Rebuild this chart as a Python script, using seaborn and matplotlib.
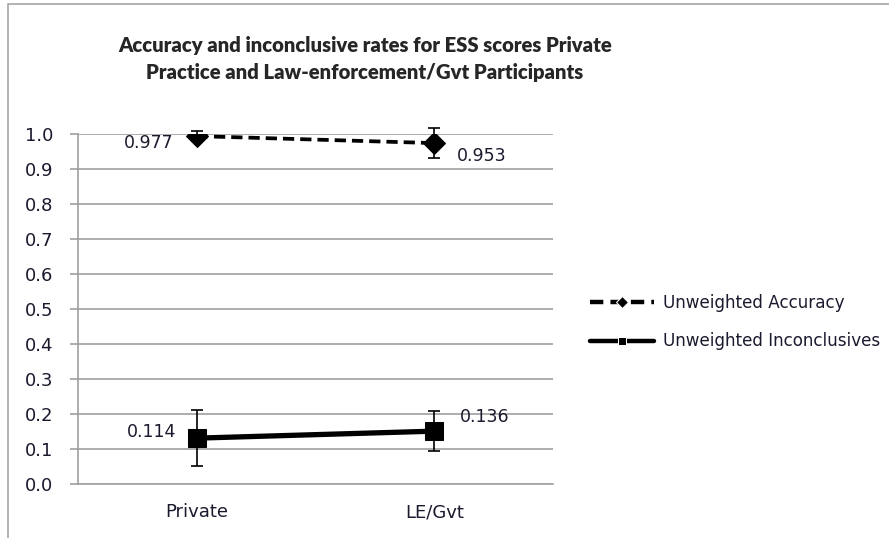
import pandas as pd
import matplotlib.pyplot as plt
import seaborn as sns
from matplotlib.patches import Rectangle

# Grup kategorileri ve seriler
groups = ["Private", "LE/Gvt"]
accuracy = [0.994, 0.974]
accuracy_err = [0.015, 0.042]
accuracy_labels = ["0.977", "0.953"]
inconclusive = [0.131, 0.151]
inconclusive_err = [0.080, 0.058]
inconclusive_labels = ["0.114", "0.136"]
yticks = [0.0, 0.1, 0.2, 0.3, 0.4, 0.5, 0.6, 0.7, 0.8, 0.9, 1.0]

df = pd.DataFrame({
    "group": groups * 2,
    "rate": accuracy + inconclusive,
    "series": ["Unweighted Accuracy"] * 2 + ["Unweighted Inconclusives"] * 2,
})

sns.set_style("white")
plt.rcParams["font.family"] = ["DejaVu Sans"]

fig = plt.figure(figsize=(8.89, 5.38), dpi=100)
fig.patches.append(Rectangle((8 / 889, -0.1), 1.1, 1 - 4 / 538 + 0.1,
                             transform=fig.transFigure, fill=False,
                             edgecolor="#a6a6a6", lw=1.2))
ax = fig.add_axes([78 / 889, 1 - 484 / 538, (553 - 78) / 889, (484 - 134) / 538])

sns.lineplot(data=df, x="group", y="rate", style="series",
             markers={"Unweighted Accuracy": "D", "Unweighted Inconclusives": "s"},
             dashes={"Unweighted Accuracy": (3.0, 1.6), "Unweighted Inconclusives": ""},
             color="black", markersize=11, ax=ax, legend=True)
ax.lines[0].set_linewidth(2.7)
ax.lines[1].set_linewidth(3.8)
ax.lines[1].set_markersize(12.5)
for line in ax.lines[:2]:
    line.set_markeredgecolor("black")

xs = range(len(groups))
ax.errorbar(xs, accuracy, yerr=accuracy_err, fmt="none", ecolor="black",
            elinewidth=1.2, capsize=4.5, capthick=1.2, clip_on=False, zorder=5)
ax.errorbar(xs, inconclusive, yerr=inconclusive_err, fmt="none", ecolor="black",
            elinewidth=1.2, capsize=4.5, capthick=1.2, clip_on=False, zorder=5)

lab_kw = dict(fontsize=12.5, color="#1a1a2e", textcoords="offset points", va="center")
ax.annotate(accuracy_labels[0], (0, accuracy[0]), xytext=(-17, -5), ha="right", **lab_kw)
ax.annotate(accuracy_labels[1], (1, accuracy[1]), xytext=(16, -9.5), ha="left", **lab_kw)
ax.annotate(inconclusive_labels[0], (0, inconclusive[0]), xytext=(-15, 4.5), ha="right", **lab_kw)
ax.annotate(inconclusive_labels[1], (1, inconclusive[1]), xytext=(18.5, 10), ha="left", **lab_kw)

ax.set_xlim(-0.5, 1.5)
ax.set_ylim(0, 1.0)
ax.set_yticks(yticks)
ax.set_yticklabels([f"{t:.1f}" for t in yticks])
ax.yaxis.grid(True, color="#a0a0a0", lw=1.2)
ax.set_axisbelow(True)
ax.set_xlabel("")
ax.set_ylabel("")
for s in ["top", "right"]:
    ax.spines[s].set_visible(False)
for s in ["left", "bottom"]:
    ax.spines[s].set_color("#a0a0a0")
    ax.spines[s].set_linewidth(1.2)
ax.tick_params(axis="y", length=6, color="#a0a0a0", width=1.2, labelsize=13,
               pad=12, left=True, labelcolor="#1a1a2e")
ax.tick_params(axis="x", length=0, labelsize=13, pad=14, labelcolor="#1a1a2e")

leg = ax.legend(loc="center left", bbox_to_anchor=(1.078, 0.462), frameon=False,
                fontsize=12.1, handlelength=3.8, handletextpad=0.55,
                labelspacing=1.2, borderaxespad=0, borderpad=0)
for h in leg.legend_handles:
    h.set_color("black")
    h.set_markersize(6)
    h.set_linewidth(3.2)
for t in leg.get_texts():
    t.set_color("#1a1a2e")

fig.text(365 / 889, 1 - 59 / 538,
         "Accuracy and inconclusive rates for ESS scores Private\nPractice and Law-enforcement/Gvt Participants",
         ha="center", va="center", fontsize=14.6, fontweight="heavy",
         family=["Lato", "DejaVu Sans"], linespacing=1.55)

fig.savefig("out.png", dpi=100)
